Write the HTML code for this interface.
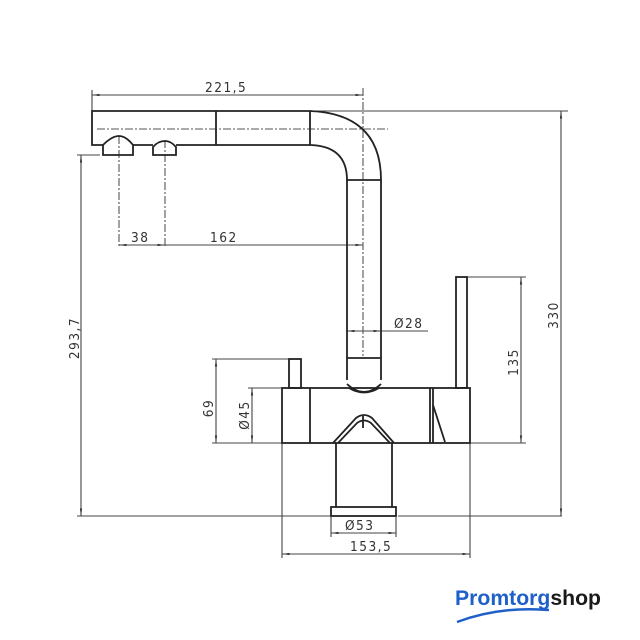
<!DOCTYPE html>
<html><head><meta charset="utf-8"><style>
html,body{margin:0;padding:0;background:#fff;width:640px;height:640px;overflow:hidden}
svg{display:block}
.t{font-family:"DejaVu Sans Condensed","Liberation Sans",sans-serif;font-size:13.5px;fill:#333;letter-spacing:1.5px}
</style></head><body>
<svg width="640" height="640" viewBox="0 0 640 640" xmlns="http://www.w3.org/2000/svg">
<defs>
<marker id="a" viewBox="0 0 10 10" refX="10" refY="5" markerWidth="7" markerHeight="7" orient="auto-start-reverse"><path d="M0,3.5 L10,5 L0,6.5 z" fill="#333"/></marker>
</defs>
<g stroke="#444" stroke-width="1.1" fill="none">
<line x1="92" y1="90" x2="92" y2="111"/>
<line x1="310" y1="111" x2="568" y2="111"/>
<line x1="77" y1="155" x2="100" y2="155"/>
<line x1="77" y1="516" x2="330" y2="516"/>
<line x1="398" y1="516" x2="562" y2="516"/>
<line x1="467" y1="277" x2="526" y2="277"/>
<line x1="470" y1="443" x2="526" y2="443"/>
<line x1="212" y1="359" x2="289" y2="359"/>
<line x1="212" y1="443" x2="282" y2="443"/>
<line x1="248" y1="388" x2="282" y2="388"/>
<line x1="381" y1="331" x2="428" y2="331"/>
<line x1="282" y1="443" x2="282" y2="558"/>
<line x1="470" y1="443" x2="470" y2="558"/>
<line x1="331" y1="516" x2="331" y2="537"/>
<line x1="396" y1="516" x2="396" y2="537"/>
<line x1="92" y1="95" x2="363" y2="95" marker-start="url(#a)" marker-end="url(#a)"/>
<line x1="119" y1="245" x2="165" y2="245" marker-start="url(#a)" marker-end="url(#a)"/>
<line x1="165" y1="245" x2="363" y2="245" marker-end="url(#a)"/>
<line x1="81" y1="155" x2="81" y2="516" marker-start="url(#a)" marker-end="url(#a)"/>
<line x1="561" y1="111" x2="561" y2="516" marker-start="url(#a)" marker-end="url(#a)"/>
<line x1="521" y1="277" x2="521" y2="443" marker-start="url(#a)" marker-end="url(#a)"/>
<line x1="216" y1="359" x2="216" y2="443" marker-start="url(#a)" marker-end="url(#a)"/>
<line x1="252" y1="388" x2="252" y2="443" marker-start="url(#a)" marker-end="url(#a)"/>
<line x1="347" y1="331" x2="381" y2="331" marker-start="url(#a)" marker-end="url(#a)"/>
<line x1="331" y1="533" x2="396" y2="533" marker-start="url(#a)" marker-end="url(#a)"/>
<line x1="282" y1="554" x2="470" y2="554" marker-start="url(#a)" marker-end="url(#a)"/>
<g stroke-dasharray="8,2,2,2" stroke="#555">
<line x1="97" y1="129" x2="388" y2="129"/>
<line x1="363" y1="88" x2="363" y2="356"/>
<line x1="119" y1="136" x2="119" y2="248"/>
<line x1="165" y1="140" x2="165" y2="248"/>
</g>
</g>
<g stroke="#222" stroke-width="1.8" fill="none">
<path d="M310,111 L92,111 L92,145 L103,145"/>
<path d="M133,145 L153,145 M176,145 L310,145"/>
<line x1="216" y1="111" x2="216" y2="145"/>
<line x1="310" y1="111" x2="310" y2="145"/>
<path d="M310,111 Q381,114 381,180 L347,180 Q347,146 310,145"/>
<path d="M103,155 L103,145 Q112,136 119,136 Q126,136 133,145 L133,155 Z"/>
<path d="M153,155 L153,147 Q158,141 165,141 Q171,141 176,147 L176,155 Z"/>
<line x1="347" y1="180" x2="347" y2="380"/>
<line x1="381" y1="180" x2="381" y2="380"/>
<line x1="347" y1="358" x2="381" y2="358"/>
<rect x="282" y="388" width="188" height="55"/>
<line x1="310" y1="388" x2="310" y2="443"/>
<line x1="430" y1="388" x2="430" y2="443"/>
<line x1="433" y1="388" x2="433" y2="443"/>
<path d="M347,384 Q364,400 381,384"/>
<path d="M349,388 Q364,397 379,388"/>
<path d="M433,405 L445,442"/>
<rect x="289" y="359" width="12" height="29"/>
<rect x="456" y="277" width="11" height="111"/>
<path d="M333,443 L356,418 Q364,412 372,418 L394,443"/>
<path d="M338,443 L357,423 Q364,418 371,423 L390,443"/>
<line x1="363" y1="416" x2="363" y2="428"/>
<line x1="336" y1="443" x2="336" y2="507"/>
<line x1="392" y1="443" x2="392" y2="507"/>
<rect x="331" y="507" width="65" height="9"/>
</g>
<text class="t" x="205" y="92">221,5</text>
<text class="t" x="131" y="242">38</text>
<text class="t" x="210" y="242">162</text>
<text class="t" x="394" y="328">Ø28</text>
<text class="t" x="345" y="530">Ø53</text>
<text class="t" x="350" y="551">153,5</text>
<text class="t" transform="translate(79,338) rotate(-90)" text-anchor="middle">293,7</text>
<text class="t" transform="translate(213,408) rotate(-90)" text-anchor="middle">69</text>
<text class="t" transform="translate(249,415) rotate(-90)" text-anchor="middle">Ø45</text>
<text class="t" transform="translate(518,362) rotate(-90)" text-anchor="middle">135</text>
<text class="t" transform="translate(558,315) rotate(-90)" text-anchor="middle">330</text>
<text x="455" y="605" font-family="'Liberation Sans',sans-serif" font-weight="bold" font-size="21.2" fill="#1e5fc8">Promtorg<tspan fill="#1a1a1a">shop</tspan></text>
<path d="M457,622 Q500,606 549,610" stroke="#1e5fc8" stroke-width="2.5" fill="none"/>
</svg>
</body></html>
